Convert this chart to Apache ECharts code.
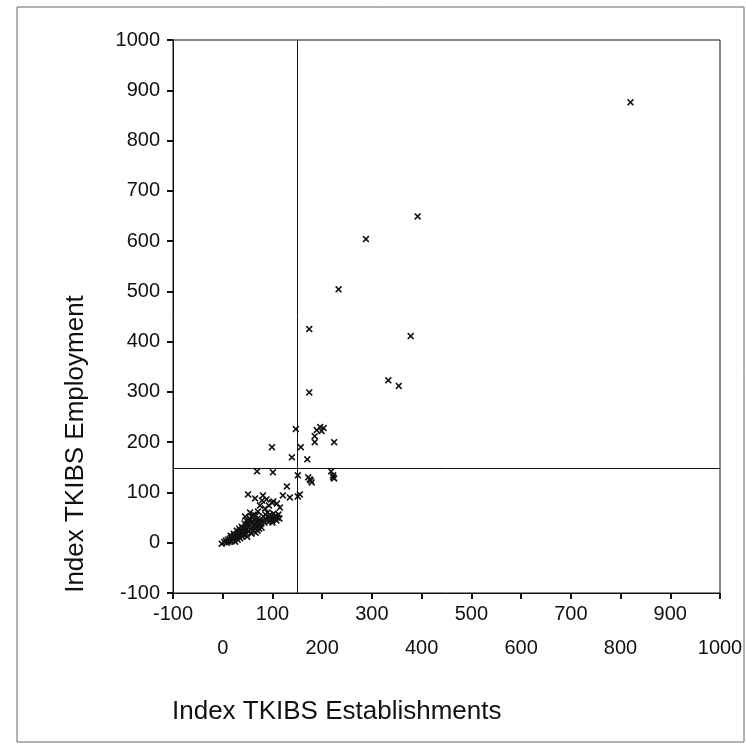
<!DOCTYPE html>
<html>
<head>
<meta charset="utf-8">
<script src="https://cdn.jsdelivr.net/npm/echarts@6/dist/echarts.min.js"></script>
<style>
  html, body { margin: 0; padding: 0; background: #fff; }
  #chart { width: 746px; height: 745px; }
</style>
</head>
<body>
<div id="chart"></div>
<script>
// Data (estimates)
var establishments = [
  820, 392, 288, 233, 174, 378, 333, 354, 174,
  147, 189, 196, 203, 199, 185, 185, 224, 99, 157, 139, 170,
  69, 101, 151, 172, 175, 179, 177, 218, 222, 224, 222,
  129, 155, 151, 135, 121, 109, 99, 115, 51, 81, 65, 79, 85, 75, 45, 55, 71, 102, 93, 88,
  80, 82, 84, 86, 88, 90, 92, 94, 95, 97, 99, 100, 102, 104, 106, 108, 110, 112, 114, 90, 96, 86, 100,
  -2, 3, 6, 8, 10, 12, 14, 15, 17, 18, 20, 21, 23, 24, 25, 26, 27, 29, 30, 31, 32, 34, 35, 36, 37, 39,
  40, 41, 42, 44, 45, 46, 47, 48, 49, 50, 51, 52, 53, 54, 55, 56, 57, 58, 59, 60, 61, 62, 63, 64, 65,
  66, 67, 68, 69, 70, 72, 73, 74, 75, 62, 58, 54, 66, 70, 76, 78, 44, 38, 33, 28, 22, 16, 48
];
var employment = [
  876, 649, 604, 504, 425, 411, 323, 312, 299,
  226, 224, 230, 228, 222, 212, 200, 200, 190, 190, 170, 166,
  142, 140, 134, 130, 126, 120, 124, 142, 134, 128, 130,
  112, 96, 92, 90, 94, 78, 80, 70, 96, 94, 88, 84, 68, 74, 52, 60, 62, 82, 74, 86,
  44, 52, 40, 56, 46, 60, 42, 50, 56, 44, 52, 40, 58, 48, 54, 44, 50, 56, 48, 52, 48, 48, 46,
  -2, 1, 4, 0, 6, 2, 8, 4, 10, 3, 12, 6, 14, 8, 2, 16, 10, 18, 6, 13, 22, 16, 9, 24, 19, 12,
  28, 21, 15, 30, 24, 18, 34, 27, 12, 38, 30, 22, 42, 34, 26, 46, 38, 18, 30, 42, 50, 34, 24, 46, 38,
  28, 54, 42, 32, 48, 38, 28, 44, 34, 56, 52, 48, 20, 24, 40, 30, 38, 32, 28, 24, 18, 14, 44
];
var refEstablishments = 150;
var refEmployment = 148;
var axisMin = -100, axisMax = 1000, axisStep = 100;
var xTitle = 'Index TKIBS Establishments';
var yTitle = 'Index TKIBS Employment';

var points = establishments.map(function (x, i) { return [x, employment[i]]; });

var crossPath = 'path://M0,1.6L1.6,0L5,3.4L8.4,0L10,1.6L6.6,5L10,8.4L8.4,10L5,6.6L1.6,10L0,8.4L3.4,5Z';
var font = 'Liberation Sans, Arial, sans-serif';

var chart = echarts.init(document.getElementById('chart'), null, { renderer: 'canvas' });
chart.setOption({
  backgroundColor: '#ffffff',
  animation: false,
  grid: {
    left: 173, top: 40, width: 547, height: 553,
    show: true, borderColor: '#111', borderWidth: 1, backgroundColor: 'transparent'
  },
  xAxis: {
    type: 'value', min: axisMin, max: axisMax, interval: axisStep,
    axisLine: { show: true, onZero: false, lineStyle: { color: '#111', width: 1 } },
    axisTick: { show: true, inside: false, length: 6, lineStyle: { color: '#111', width: 2 } },
    splitLine: { show: false },
    axisLabel: {
      show: true, interval: 0, showMinLabel: true, showMaxLabel: true,
      margin: 4, color: '#111', fontSize: 20, fontFamily: font, lineHeight: 34,
      formatter: function (v) {
        return (Math.round(v / 100) % 2 === 0) ? '\n' + v : String(v);
      }
    }
  },
  yAxis: {
    type: 'value', min: axisMin, max: axisMax, interval: axisStep,
    axisLine: { show: true, onZero: false, lineStyle: { color: '#111', width: 1 } },
    axisTick: { show: true, inside: false, length: 6, lineStyle: { color: '#111', width: 2 } },
    splitLine: { show: false },
    axisLabel: {
      show: true, showMinLabel: true, showMaxLabel: true,
      margin: 13, color: '#111', fontSize: 20, fontFamily: font,
      formatter: function (v) { return String(v); }
    }
  },
  series: [{
    type: 'scatter',
    data: points,
    symbol: crossPath,
    symbolSize: 7,
    itemStyle: { color: '#111', opacity: 1 },
    markLine: {
      silent: true,
      symbol: ['none', 'none'],
      label: { show: false },
      lineStyle: { color: '#111', width: 1, type: 'solid' },
      data: [
        { xAxis: refEstablishments },
        { yAxis: refEmployment }
      ]
    }
  }],
  graphic: [
    {
      type: 'rect', silent: true,
      shape: { x: 17, y: 7, width: 727, height: 735 },
      style: { fill: 'none', stroke: '#666', lineWidth: 1 }
    },
    {
      type: 'text', silent: true,
      x: 172, y: 712,
      style: { text: xTitle, font: '26px ' + font, fill: '#111', textAlign: 'left', textVerticalAlign: 'middle' }
    },
    {
      type: 'text', silent: true,
      x: 76, y: 444, rotation: Math.PI / 2,
      style: { text: yTitle, font: '26px ' + font, fill: '#111', textAlign: 'center', textVerticalAlign: 'middle' }
    }
  ]
});
</script>
</body>
</html>
